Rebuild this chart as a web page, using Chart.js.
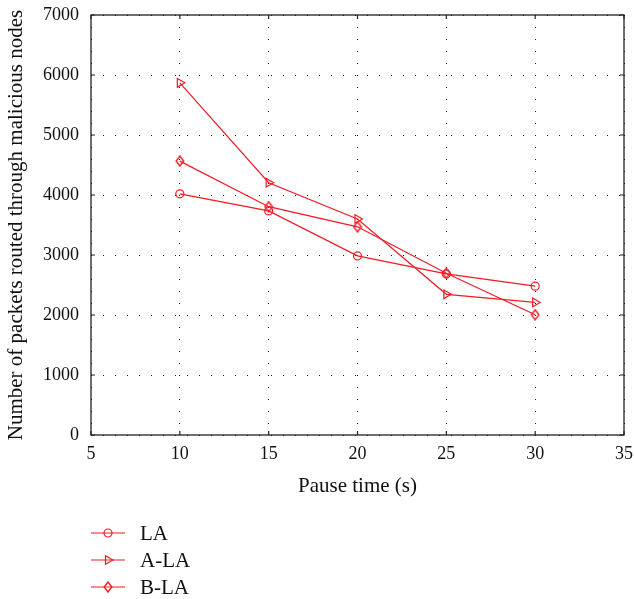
<!DOCTYPE html>
<html><head><meta charset="utf-8">
<script src="https://cdn.jsdelivr.net/npm/chart.js@4.4.0/dist/chart.umd.min.js"></script>
<style>html,body{margin:0;padding:0;background:#fff}#wrap{width:634px;height:599px}</style>
</head><body><div id="wrap"><canvas id="c" width="634" height="599"></canvas></div>
<script>
const pauseTimes = [10, 15, 20, 25, 30];
const seriesLA = [4020, 3735, 2985, 2685, 2480];
const seriesALA = [5870, 4205, 3600, 2345, 2210];
const seriesBLA = [4565, 3805, 3470, 2695, 2005];
const seriesNames = ['LA', 'A-LA', 'B-LA'];
const xTicks = [5, 10, 15, 20, 25, 30, 35];
const yTicks = [0, 1000, 2000, 3000, 4000, 5000, 6000, 7000];

const RED = '#ee1c25';
const FONT = '"Liberation Serif", "Times New Roman", serif';

function diamondCanvas() {
  const c = document.createElement('canvas');
  c.width = 10; c.height = 12;
  const g = c.getContext('2d');
  g.strokeStyle = RED; g.lineWidth = 1.4;
  g.beginPath();
  g.moveTo(5, 1); g.lineTo(8.8, 6); g.lineTo(5, 11); g.lineTo(1.2, 6); g.closePath();
  g.stroke();
  return c;
}
const diamond = diamondCanvas();

const pts = arr => arr.map((v, i) => ({x: pauseTimes[i], y: v}));
const common = {borderColor: RED, backgroundColor: 'rgba(0,0,0,0)', borderWidth: 1.2,
  pointBorderColor: RED, pointBackgroundColor: 'rgba(0,0,0,0)', pointBorderWidth: 1.2, tension: 0};

const frame = {
  id: 'frame',
  afterDraw(chart) {
    const {ctx, chartArea: a, scales} = chart;
    ctx.save();
    ctx.strokeStyle = '#222'; ctx.lineWidth = 1.3;
    ctx.strokeRect(a.left, a.top, a.right - a.left, a.bottom - a.top);
    ctx.lineWidth = 1.2;
    ctx.beginPath();
    xTicks.forEach(t => { const px = scales.x.getPixelForValue(t);
      ctx.moveTo(px, a.top); ctx.lineTo(px, a.top + 4);
      ctx.moveTo(px, a.bottom); ctx.lineTo(px, a.bottom - 4); });
    yTicks.forEach(t => { const py = scales.y.getPixelForValue(t);
      ctx.moveTo(a.left, py); ctx.lineTo(a.left + 4, py);
      ctx.moveTo(a.right, py); ctx.lineTo(a.right - 4, py); });
    ctx.stroke();
    // legend
    const rows = [533, 560, 587];
    chart.data.datasets.forEach((ds, i) => {
      const y = rows[i];
      ctx.strokeStyle = RED; ctx.lineWidth = 1.2;
      ctx.beginPath(); ctx.moveTo(91, y); ctx.lineTo(125, y); ctx.stroke();
      if (ds.pointStyle instanceof HTMLCanvasElement) {
        ctx.drawImage(ds.pointStyle, 108 - ds.pointStyle.width / 2, y - ds.pointStyle.height / 2);
      } else {
        ctx.fillStyle = 'rgba(0,0,0,0)'; ctx.strokeStyle = RED; ctx.lineWidth = 1.2;
        Chart.helpers.drawPoint(ctx, {pointStyle: ds.pointStyle, rotation: ds.pointRotation || 0,
          radius: ds.pointRadius, borderWidth: 1.2}, 108, y);
      }
      ctx.fillStyle = '#111'; ctx.font = '21px ' + FONT;
      ctx.textBaseline = 'middle'; ctx.textAlign = 'left';
      ctx.fillText(ds.label, 140, y + 1);
    });
    ctx.restore();
  }
};

new Chart(document.getElementById('c'), {
  type: 'line',
  data: {
    datasets: [
      Object.assign({label: seriesNames[0], data: pts(seriesLA), pointStyle: 'circle', pointRadius: 4}, common),
      Object.assign({label: seriesNames[1], data: pts(seriesALA), pointStyle: 'triangle', pointRotation: 90, pointRadius: 5}, common),
      Object.assign({label: seriesNames[2], data: pts(seriesBLA), pointStyle: diamond, pointRadius: 5}, common)
    ]
  },
  options: {
    responsive: false, animation: false,
    layout: {padding: {top: 15, right: 10, left: 0, bottom: 100}},
    plugins: {legend: {display: false}, tooltip: {enabled: false}},
    scales: {
      x: {type: 'linear', min: 5, max: 35,
        afterBuildTicks: s => { s.ticks = xTicks.map(v => ({value: v})); },
        afterFit: s => { s.height = 64; s.paddingLeft = 0; s.paddingRight = 0; },
        grid: {color: '#111', lineWidth: 1, drawTicks: false},
        border: {display: false, dash: [1, 11]},
        ticks: {padding: 8, color: '#111', font: {family: FONT, size: 18}, callback: v => String(v)},
        title: {display: true, text: 'Pause time (s)', color: '#111', padding: 0, font: {family: FONT, size: 21}}
      },
      y: {type: 'linear', min: 0, max: 7000,
        afterBuildTicks: s => { s.ticks = yTicks.map(v => ({value: v})); },
        afterFit: s => { s.width = 91; s.paddingTop = 0; s.paddingBottom = 0; },
        grid: {color: '#111', lineWidth: 1, drawTicks: false},
        border: {display: false, dash: [1, 11]},
        ticks: {padding: 12, color: '#111', font: {family: FONT, size: 18}, callback: v => String(v)},
        title: {display: true, text: 'Number of packets routed through malicious nodes', color: '#111', padding: {top: 4, bottom: 0}, font: {family: FONT, size: 21}}
      }
    }
  },
  plugins: [frame]
});
</script></body></html>
